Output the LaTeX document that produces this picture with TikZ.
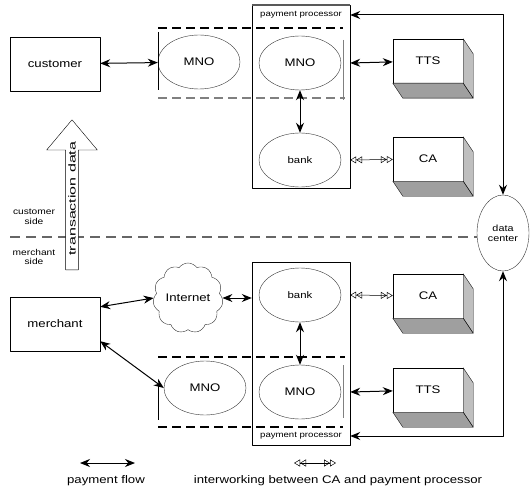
\documentclass[tikz,border=0pt]{standalone}
\usepackage{fontspec}
\setmainfont{Liberation Sans}[FakeStretch=1.2]
\newfontfamily\tdfont{Liberation Sans}[FakeStretch=1.6]
\usetikzlibrary{shapes.geometric,shapes.symbols,shapes.arrows,arrows.meta}
\begin{document}
\begin{tikzpicture}[x=1pt, y=-1pt, font=\fontsize{11}{12}\selectfont, line join=round, >={Stealth[length=10pt,width=8pt]},
    box/.style={draw, minimum width=90, minimum height=54},
    oval/.style={draw=black!80, ellipse, minimum width=82, minimum height=54, inner sep=0},
    server/.style={draw, fill=white, minimum width=70, minimum height=44},
    pp/.style={draw, minimum width=98, minimum height=183},
    pplab/.style={font=\fontsize{8}{9}\selectfont, inner sep=1pt},
    smalllab/.style={font=\fontsize{8.5}{9.5}\selectfont, align=center, inner sep=1pt},
    flow/.style={<->, line width=1pt},
    iw/.style={{Triangle[open,length=6pt,width=7pt] Triangle[open,length=6pt,width=7pt]}-{Triangle[open,length=6pt,width=7pt] Triangle[open,length=6pt,width=7pt]}, line width=0.5pt},
    grp/.style={line width=1.2pt, dash pattern=on 9pt off 5pt},
    divider/.style={gray!80!black, line width=1.6pt, dash pattern=on 10pt off 6pt},
    tdarrow/.style={single arrow, draw, fill=white, rotate=90, anchor=tail, minimum height=150,
        single arrow head extend=19pt, single arrow tip angle=80, inner xsep=2pt, inner ysep=2.5pt,
        font=\tdfont\fontsize{10}{11}\selectfont}]
    \useasboundingbox (0,0) rectangle (530,492);
    \def\ppx{301}
    % customer side
    \node[box] (cust) at (55,64) {customer};
    \node[oval] (mno1) at (199,62) {MNO};
    \node[pp] (pp1) at (\ppx,96.5) {};
    \draw[gray!70!black, line width=1.5pt] (pp1.north west) -- (pp1.north east);
    \node[pplab] (pp1lab) at (\ppx,15) {payment processor};
    \node[oval] (mno2) at (300,63) {MNO};
    \node[oval, font=\fontsize{9.5}{10}\selectfont] (bank1) at (300,160) {bank};
    \node[server] (tts1) at (428,61) {TTS};
    \node[server] (ca1) at (428,159) {CA};
    \draw[grp] (158,28) -- (343,28);
    \draw[grp, gray] (158,98) -- (345,98);
    \draw (158,32) -- (158,90);
    \draw[gray] (343,40) -- (343,100);
    % merchant side
    \node[box] (merch) at (55,324) {merchant};
    \node[cloud, draw=black!80, cloud puffs=11, cloud puff arc=110, aspect=1, minimum width=64, minimum height=66, inner sep=0] (net) at (188,298) {Internet};
    \node[pp] (pp2) at (\ppx,353.5) {};
    \node[pplab] (pp2lab) at (\ppx,436) {payment processor};
    \node[oval, font=\fontsize{9.5}{10}\selectfont] (bank2) at (300,295) {bank};
    \node[oval] (mno4) at (300,392) {MNO};
    \node[oval] (mno3) at (205,388) {MNO};
    \node[server] (ca2) at (428,296) {CA};
    \node[server] (tts2) at (428,390) {TTS};
    \draw[grp] (158,357) -- (345,357);
    \draw[grp] (158,427) -- (343,427);
    \draw (158,385) -- (158,420);
    \draw[gray] (343,365) -- (343,418);
    \foreach \s in {tts1,ca1,ca2,tts2}{
        \filldraw[fill=gray!50] (\s.north east) -- ++(10,15) -- ([shift={(10,15)}]\s.south east) -- (\s.south east) -- cycle;
        \filldraw[fill=gray!75] (\s.south west) -- ++(10,15) -- ([shift={(10,15)}]\s.south east) -- (\s.south east) -- cycle;
    }
    \node[draw=black!80, ellipse, minimum width=52, minimum height=76, inner sep=0, align=center, font=\fontsize{9}{10}\selectfont] (dc) at (503,233) {data\\center};
    % border between the sides
    \draw[divider] (10,237) -- (dc.west |- 0,237);
    \node[smalllab] (cside) at (34,217) {customer\\side};
    \node[smalllab] (mside) at (34,257) {merchant\\side};
    \node[tdarrow] (td) at (72,270) {transaction data};
    % flows
    \draw[flow] (cust) -- (mno1);
    \draw[flow] (mno2) -- (bank1);
    \draw[flow] (pp1.east |- mno2) -- (tts1);
    \draw[iw] (pp1.east |- bank1) -- (ca1);
    \draw[flow] (dc.north) |- (pp1.east |- pp1lab);
    \draw[flow] ([yshift=-10pt]merch.north east) -- (net.west);
    \draw[flow] (net.east) -- (pp2.west |- net.east);
    \draw[flow] (bank2) -- (mno4);
    \draw[flow] ([yshift=10pt]merch.south east) -- (mno3.west);
    \draw[flow] (pp2.east |- mno4) -- (tts2);
    \draw[iw] (pp2.east |- bank2) -- (ca2);
    \draw[flow] (dc.south) |- (pp2.east |- pp2lab);
    % legend
    \coordinate (pfa) at (80,463);
    \coordinate (pfb) at (135,463);
    \draw[flow] (pfa) -- (pfb);
    \node (pflab) at (106,481) {payment flow};
    \coordinate (iwa) at (294,463);
    \coordinate (iwb) at (336,463);
    \draw[iw] (iwa) -- (iwb);
    \node (iwlab) at (338,481) {interworking between CA and payment processor};
\end{tikzpicture}
\end{document}
